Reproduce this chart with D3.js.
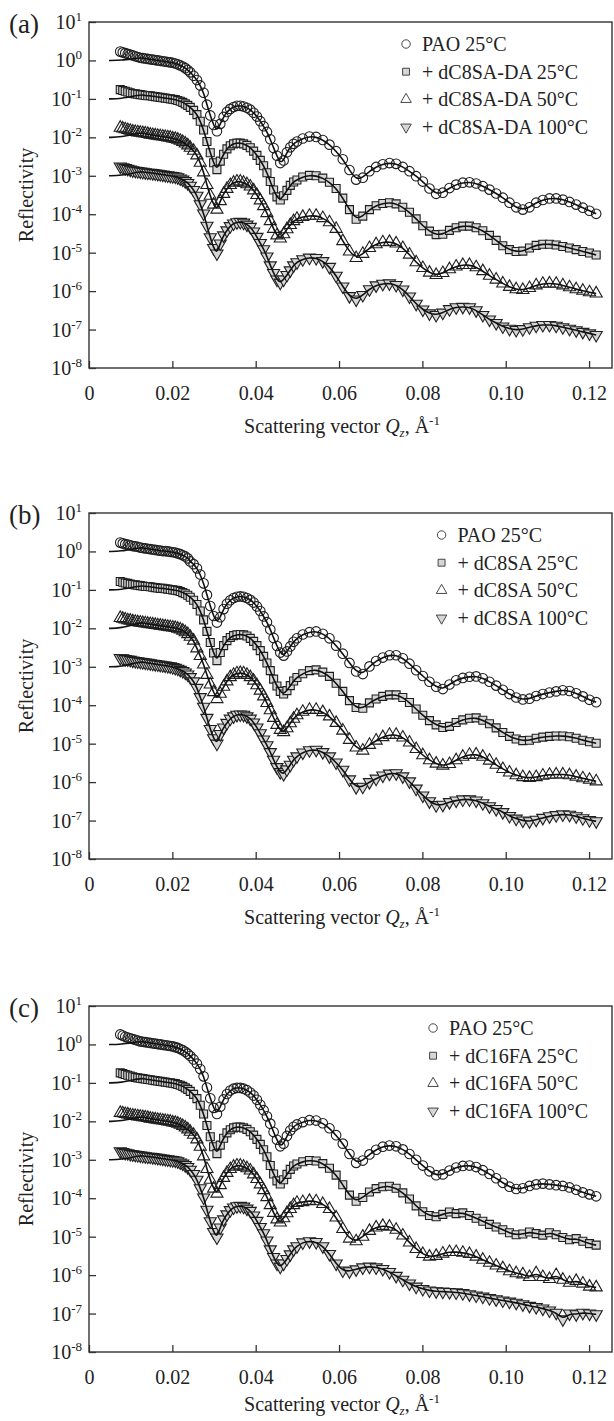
<!DOCTYPE html>
<html>
<head>
<meta charset="utf-8" />
<title>Neutron reflectivity</title>
<script src="https://d3js.org/d3.v7.min.js" charset="utf-8"></script>
<style>
  body { margin: 0; background: #fff; }
  text { font-family: "Liberation Serif", "Times New Roman", serif; fill: #222; }
</style>
</head>
<body>
<script>
// Q values (1/Å) shared by every measured curve
const qGrid = [
  0.0075,0.0081,0.0087,0.0093,0.0099,0.0105,0.0111,0.0117,0.0123,0.0129,0.0135,0.0141,0.0147,0.0153,
  0.0159,0.0165,0.0171,0.0177,0.0183,0.0189,0.0195,0.0201,0.0207,0.0213,0.0219,0.0225,0.0231,0.0237,
  0.0243,0.0251,0.0259,0.0267,0.0275,0.0283,0.0291,0.0299,0.0307,0.0315,0.0323,0.0331,0.0339,0.0347,
  0.0355,0.0363,0.0371,0.0379,0.0387,0.0395,0.0403,0.0411,0.0419,0.0427,0.0435,0.0443,0.0451,0.0459,
  0.0467,0.0475,0.0483,0.0491,0.0499,
  0.0513,0.0529,0.0545,0.0561,0.0577,0.0593,0.0609,0.0625,0.0641,0.0657,0.0673,0.0689,0.0705,0.0721,
  0.0737,0.0753,0.0769,0.0785,0.0801,0.0817,0.0833,0.0849,0.0865,0.0881,0.0897,0.0913,0.0929,0.0945,
  0.0961,0.0977,0.0993,0.1009,0.1025,0.1041,0.1057,0.1073,0.1089,0.1105,0.1121,0.1137,0.1153,0.1169,
  0.1185,0.1201,0.1217
];

// log10(reflectivity), curves already offset by decades as plotted
// panel (a)
const aPao = [0.23,0.21,0.19,0.17,0.15,0.13,0.11,0.09,0.07,0.06,0.05,0.04,0.03,0.02,0.01,0.00,-0.01,-0.02,-0.03,-0.04,-0.05,-0.06,-0.08,-0.10,-0.13,-0.16,-0.20,-0.25,
  -0.31,-0.40,-0.51,-0.65,-0.84,-1.15,-1.43,-1.68,-1.84,-1.65,-1.47,-1.34,-1.26,-1.21,-1.18,-1.18,-1.20,-1.23,-1.28,-1.36,-1.46,-1.58,-1.71,-1.86,-2.05,-2.28,-2.48,-2.67,-2.60,-2.39,-2.26,-2.17,-2.11,
  -2.03,-1.98,-1.99,-2.07,-2.19,-2.36,-2.57,-2.85,-3.10,-3.05,-2.88,-2.77,-2.70,-2.67,-2.69,-2.77,-2.88,-3.01,-3.15,-3.33,-3.47,-3.44,-3.32,-3.23,-3.18,-3.17,-3.20,-3.27,-3.36,-3.46,-3.57,-3.70,-3.82,-3.88,-3.82,-3.70,-3.63,-3.59,-3.59,-3.62,-3.68,-3.75,-3.83,-3.91,-3.99];
const aDa25 = [-0.76,-0.78,-0.80,-0.82,-0.84,-0.86,-0.87,-0.88,-0.89,-0.90,-0.91,-0.92,-0.92,-0.93,-0.94,-0.95,-0.96,-0.97,-0.98,-0.99,-1.00,-1.01,-1.02,-1.04,-1.06,-1.09,-1.13,-1.17,
  -1.22,-1.30,-1.41,-1.58,-1.81,-2.11,-2.40,-2.66,-2.84,-2.62,-2.44,-2.30,-2.22,-2.17,-2.15,-2.15,-2.17,-2.21,-2.27,-2.36,-2.47,-2.60,-2.74,-2.92,-3.15,-3.37,-3.55,-3.63,-3.52,-3.38,-3.25,-3.16,-3.11,
  -3.03,-2.99,-3.00,-3.06,-3.17,-3.33,-3.58,-3.88,-4.13,-4.05,-3.88,-3.78,-3.72,-3.70,-3.73,-3.82,-3.95,-4.12,-4.30,-4.44,-4.53,-4.52,-4.42,-4.35,-4.31,-4.31,-4.35,-4.43,-4.55,-4.68,-4.82,-4.92,-4.97,-4.96,-4.88,-4.81,-4.78,-4.78,-4.80,-4.84,-4.88,-4.92,-4.97,-5.01,-5.06];
const aDa50 = [-1.75,-1.77,-1.79,-1.81,-1.83,-1.85,-1.86,-1.87,-1.88,-1.89,-1.90,-1.91,-1.93,-1.94,-1.95,-1.96,-1.97,-1.98,-1.99,-2.00,-2.01,-2.03,-2.04,-2.06,-2.09,-2.12,-2.16,-2.21,
  -2.27,-2.35,-2.47,-2.66,-2.91,-3.24,-3.52,-3.75,-3.88,-3.66,-3.47,-3.34,-3.24,-3.18,-3.15,-3.15,-3.18,-3.22,-3.28,-3.38,-3.50,-3.64,-3.79,-3.97,-4.18,-4.38,-4.55,-4.63,-4.52,-4.39,-4.28,-4.18,-4.12,
  -4.07,-4.04,-4.04,-4.10,-4.21,-4.38,-4.70,-4.97,-5.14,-5.03,-4.88,-4.78,-4.73,-4.72,-4.76,-4.88,-5.05,-5.25,-5.40,-5.52,-5.58,-5.53,-5.43,-5.36,-5.32,-5.32,-5.38,-5.48,-5.60,-5.70,-5.80,-5.89,-5.95,-5.97,-5.92,-5.85,-5.81,-5.80,-5.81,-5.85,-5.90,-5.95,-5.99,-6.03,-6.06];
const aDa100 = [-2.76,-2.78,-2.80,-2.82,-2.84,-2.86,-2.87,-2.88,-2.89,-2.90,-2.91,-2.92,-2.92,-2.93,-2.94,-2.95,-2.96,-2.97,-2.98,-2.99,-3.00,-3.01,-3.02,-3.04,-3.07,-3.10,-3.14,-3.19,
  -3.26,-3.37,-3.52,-3.74,-3.98,-4.30,-4.60,-4.88,-5.02,-4.76,-4.55,-4.42,-4.31,-4.24,-4.21,-4.20,-4.22,-4.27,-4.33,-4.45,-4.59,-4.75,-4.91,-5.10,-5.33,-5.53,-5.70,-5.78,-5.70,-5.58,-5.46,-5.33,-5.25,
  -5.17,-5.13,-5.14,-5.22,-5.37,-5.60,-5.88,-6.13,-6.22,-6.10,-5.95,-5.85,-5.81,-5.80,-5.84,-5.96,-6.14,-6.33,-6.48,-6.58,-6.62,-6.56,-6.47,-6.42,-6.41,-6.42,-6.50,-6.62,-6.74,-6.83,-6.92,-6.98,-7.01,-6.99,-6.94,-6.90,-6.88,-6.88,-6.90,-6.94,-6.98,-7.02,-7.06,-7.10,-7.14];

// panel (b)
const bPao = [0.23,0.21,0.19,0.18,0.16,0.14,0.13,0.12,0.10,0.09,0.08,0.07,0.06,0.05,0.04,0.03,0.02,0.01,0.01,0.00,-0.01,-0.02,-0.03,-0.05,-0.07,-0.10,-0.13,-0.18,
  -0.26,-0.33,-0.44,-0.60,-0.83,-1.13,-1.42,-1.68,-1.85,-1.71,-1.50,-1.36,-1.27,-1.21,-1.18,-1.17,-1.18,-1.21,-1.26,-1.33,-1.43,-1.55,-1.69,-1.84,-2.03,-2.25,-2.46,-2.63,-2.71,-2.60,-2.47,-2.35,-2.26,
  -2.16,-2.10,-2.08,-2.14,-2.26,-2.45,-2.66,-2.90,-3.12,-3.19,-2.99,-2.85,-2.76,-2.70,-2.70,-2.78,-2.92,-3.09,-3.24,-3.39,-3.52,-3.58,-3.46,-3.35,-3.29,-3.26,-3.25,-3.30,-3.39,-3.49,-3.60,-3.71,-3.80,-3.85,-3.83,-3.76,-3.71,-3.67,-3.64,-3.61,-3.63,-3.69,-3.77,-3.86,-3.92];
const bSa25 = [-0.78,-0.80,-0.82,-0.83,-0.85,-0.86,-0.87,-0.88,-0.89,-0.90,-0.91,-0.91,-0.92,-0.93,-0.94,-0.95,-0.96,-0.96,-0.97,-0.98,-0.99,-1.00,-1.01,-1.02,-1.04,-1.07,-1.10,-1.14,
  -1.19,-1.27,-1.38,-1.55,-1.78,-2.08,-2.37,-2.64,-2.84,-2.63,-2.45,-2.32,-2.24,-2.19,-2.17,-2.16,-2.17,-2.20,-2.26,-2.34,-2.45,-2.58,-2.73,-2.90,-3.10,-3.32,-3.50,-3.64,-3.71,-3.62,-3.49,-3.37,-3.28,
  -3.18,-3.10,-3.08,-3.14,-3.25,-3.43,-3.64,-3.88,-4.06,-4.08,-3.94,-3.84,-3.77,-3.73,-3.73,-3.80,-3.93,-4.10,-4.26,-4.40,-4.51,-4.58,-4.55,-4.45,-4.38,-4.34,-4.33,-4.39,-4.48,-4.59,-4.71,-4.81,-4.88,-4.92,-4.91,-4.86,-4.83,-4.81,-4.80,-4.80,-4.82,-4.86,-4.91,-4.95,-4.99];
const bSa50 = [-1.73,-1.75,-1.77,-1.79,-1.80,-1.82,-1.83,-1.84,-1.85,-1.86,-1.87,-1.88,-1.89,-1.90,-1.91,-1.92,-1.93,-1.94,-1.95,-1.96,-1.97,-1.98,-1.99,-2.01,-2.03,-2.06,-2.10,-2.15,
  -2.22,-2.32,-2.52,-2.72,-2.94,-3.21,-3.46,-3.66,-3.84,-3.70,-3.52,-3.38,-3.27,-3.21,-3.17,-3.16,-3.17,-3.21,-3.27,-3.36,-3.48,-3.62,-3.77,-3.94,-4.13,-4.33,-4.51,-4.64,-4.70,-4.60,-4.47,-4.35,-4.26,
  -4.17,-4.12,-4.12,-4.18,-4.29,-4.46,-4.66,-4.90,-5.10,-5.18,-5.03,-4.92,-4.83,-4.77,-4.77,-4.84,-4.97,-5.14,-5.30,-5.43,-5.52,-5.57,-5.53,-5.43,-5.34,-5.29,-5.28,-5.34,-5.44,-5.55,-5.66,-5.75,-5.82,-5.87,-5.89,-5.87,-5.83,-5.81,-5.80,-5.80,-5.82,-5.86,-5.90,-5.94,-5.98];
const bSa100 = [-2.77,-2.78,-2.80,-2.81,-2.82,-2.84,-2.85,-2.86,-2.87,-2.88,-2.89,-2.90,-2.91,-2.92,-2.93,-2.94,-2.95,-2.96,-2.97,-2.98,-2.99,-3.01,-3.03,-3.05,-3.08,-3.11,-3.15,-3.20,
  -3.27,-3.38,-3.55,-3.79,-4.04,-4.33,-4.62,-4.86,-5.00,-4.75,-4.58,-4.46,-4.35,-4.29,-4.25,-4.24,-4.25,-4.29,-4.35,-4.45,-4.58,-4.73,-4.89,-5.04,-5.22,-5.42,-5.61,-5.74,-5.79,-5.67,-5.55,-5.42,-5.33,
  -5.23,-5.17,-5.16,-5.22,-5.33,-5.49,-5.68,-5.93,-6.13,-6.12,-6.00,-5.91,-5.83,-5.78,-5.77,-5.85,-5.98,-6.17,-6.35,-6.50,-6.60,-6.59,-6.52,-6.48,-6.45,-6.45,-6.48,-6.55,-6.63,-6.70,-6.78,-6.88,-6.95,-7.00,-7.02,-6.98,-6.93,-6.89,-6.86,-6.84,-6.85,-6.89,-6.94,-6.99,-7.02];

// panel (c)
const cPao = [0.26,0.23,0.20,0.18,0.16,0.14,0.12,0.10,0.08,0.07,0.06,0.05,0.04,0.03,0.02,0.01,0.00,-0.01,-0.02,-0.03,-0.04,-0.05,-0.07,-0.09,-0.12,-0.15,-0.19,-0.24,
  -0.30,-0.39,-0.50,-0.64,-0.83,-1.12,-1.40,-1.65,-1.81,-1.62,-1.43,-1.29,-1.20,-1.15,-1.13,-1.13,-1.15,-1.19,-1.25,-1.33,-1.44,-1.57,-1.71,-1.87,-2.06,-2.28,-2.48,-2.65,-2.58,-2.38,-2.24,-2.14,-2.08,
  -2.02,-1.97,-1.98,-2.05,-2.18,-2.36,-2.58,-2.85,-3.08,-3.02,-2.86,-2.74,-2.66,-2.63,-2.65,-2.73,-2.85,-3.00,-3.15,-3.30,-3.40,-3.38,-3.28,-3.20,-3.16,-3.15,-3.19,-3.27,-3.37,-3.48,-3.60,-3.70,-3.76,-3.74,-3.68,-3.64,-3.62,-3.64,-3.66,-3.68,-3.72,-3.78,-3.85,-3.90,-3.95];
const cFa25 = [-0.74,-0.76,-0.78,-0.80,-0.82,-0.84,-0.86,-0.87,-0.88,-0.89,-0.90,-0.91,-0.92,-0.93,-0.94,-0.95,-0.96,-0.97,-0.98,-0.99,-1.00,-1.01,-1.02,-1.04,-1.06,-1.09,-1.13,-1.17,
  -1.22,-1.30,-1.41,-1.58,-1.81,-2.11,-2.40,-2.66,-2.84,-2.62,-2.44,-2.30,-2.22,-2.17,-2.15,-2.15,-2.17,-2.21,-2.27,-2.36,-2.47,-2.60,-2.74,-2.92,-3.15,-3.37,-3.55,-3.63,-3.52,-3.38,-3.25,-3.16,-3.11,
  -3.05,-3.02,-3.03,-3.10,-3.22,-3.40,-3.65,-3.92,-4.08,-3.98,-3.84,-3.75,-3.70,-3.69,-3.74,-3.86,-4.02,-4.20,-4.35,-4.45,-4.48,-4.42,-4.36,-4.40,-4.38,-4.45,-4.52,-4.60,-4.68,-4.75,-4.82,-4.90,-4.95,-4.93,-4.88,-4.92,-4.96,-4.90,-4.95,-5.02,-5.08,-5.05,-5.12,-5.18,-5.22];
const cFa50 = [-1.78,-1.79,-1.81,-1.82,-1.84,-1.85,-1.86,-1.87,-1.88,-1.89,-1.90,-1.91,-1.93,-1.94,-1.95,-1.96,-1.97,-1.98,-1.99,-2.00,-2.01,-2.03,-2.04,-2.06,-2.09,-2.12,-2.16,-2.21,
  -2.27,-2.35,-2.47,-2.66,-2.91,-3.24,-3.52,-3.75,-3.88,-3.66,-3.47,-3.34,-3.24,-3.18,-3.15,-3.15,-3.18,-3.22,-3.28,-3.38,-3.50,-3.64,-3.79,-3.97,-4.18,-4.38,-4.55,-4.63,-4.52,-4.39,-4.28,-4.18,-4.12,
  -4.10,-4.07,-4.08,-4.15,-4.28,-4.50,-4.80,-5.05,-5.12,-5.00,-4.85,-4.76,-4.72,-4.74,-4.82,-4.97,-5.15,-5.32,-5.45,-5.52,-5.50,-5.44,-5.40,-5.40,-5.42,-5.45,-5.52,-5.60,-5.68,-5.75,-5.82,-5.90,-5.95,-5.98,-6.05,-5.95,-6.05,-6.10,-6.00,-6.12,-6.20,-6.15,-6.22,-6.30,-6.32];
const cFa100 = [-2.78,-2.80,-2.82,-2.83,-2.85,-2.86,-2.87,-2.88,-2.89,-2.90,-2.91,-2.92,-2.92,-2.93,-2.94,-2.95,-2.96,-2.97,-2.98,-2.99,-3.00,-3.01,-3.02,-3.04,-3.07,-3.10,-3.14,-3.19,
  -3.26,-3.37,-3.52,-3.74,-3.98,-4.30,-4.60,-4.88,-5.02,-4.76,-4.55,-4.42,-4.31,-4.24,-4.21,-4.20,-4.22,-4.27,-4.33,-4.45,-4.59,-4.75,-4.91,-5.10,-5.33,-5.53,-5.70,-5.78,-5.70,-5.58,-5.46,-5.33,-5.25,
  -5.15,-5.12,-5.14,-5.25,-5.45,-5.70,-5.88,-5.90,-5.85,-5.80,-5.78,-5.80,-5.84,-5.92,-6.02,-6.12,-6.22,-6.30,-6.36,-6.40,-6.42,-6.43,-6.44,-6.45,-6.47,-6.50,-6.53,-6.56,-6.60,-6.63,-6.66,-6.69,-6.72,-6.76,-6.80,-6.83,-6.87,-6.92,-6.98,-7.15,-7.00,-7.02,-6.98,-7.00,-7.02];

// model fits start at low Q on the nominal level of each curve
const fitStartQ = 0.0048;
const fitLevels = [0, -1, -2, -3];

const panelLabels = ["(a)", "(b)", "(c)"];
const legendNames = [
  ["PAO 25°C", "+ dC8SA-DA 25°C", "+ dC8SA-DA 50°C", "+ dC8SA-DA 100°C"],
  ["PAO 25°C", "+ dC8SA 25°C", "+ dC8SA 50°C", "+ dC8SA 100°C"],
  ["PAO 25°C", "+ dC16FA 25°C", "+ dC16FA 50°C", "+ dC16FA 100°C"]
];
const panelSeries = [
  [aPao, aDa25, aDa50, aDa100],
  [bPao, bSa25, bSa50, bSa100],
  [cPao, cFa25, cFa50, cFa100]
];
const xTicks = [0, 0.02, 0.04, 0.06, 0.08, 0.10, 0.12];
const xTickLabels = ["0", "0.02", "0.04", "0.06", "0.08", "0.10", "0.12"];
const yExponents = [1, 0, -1, -2, -3, -4, -5, -6, -7, -8];

// layout
const width = 614, height = 1421;
const plotLeft = 89, plotRight = 612, plotH = 346;
const panelTop = [22, 513, 1006];

const markers = [
  { type: d3.symbolCircle, size: 72, fill: "none", rot: 0 },
  { type: d3.symbolSquare, size: 64, fill: "#d6d6d6", rot: 0 },
  { type: d3.symbolTriangle, size: 64, fill: "none", rot: 0 },
  { type: d3.symbolTriangle, size: 64, fill: "#d6d6d6", rot: 180 }
];

const svg = d3.select("body").append("svg")
  .attr("width", width)
  .attr("height", height)
  .attr("viewBox", [0, 0, width, height]);

const x = d3.scaleLinear().domain([0, 0.1255]).range([plotLeft, plotRight]);

panelSeries.forEach((series, p) => {
  const top = panelTop[p], bottom = top + plotH;
  const y = d3.scaleLog().domain([1e-8, 10]).range([bottom, top]);
  const g = svg.append("g");

  // markers
  series.forEach((vals, k) => {
    if (vals.length !== qGrid.length) console.warn("length", p, k, vals.length);
    const pts = qGrid.map((q, j) => [q, vals[j]]).filter(d => d[1] !== undefined);
    const m = markers[k];
    g.append("g").selectAll("path")
      .data(pts)
      .join("path")
      .attr("d", d3.symbol(m.type, m.size))
      .attr("transform", d => `translate(${x(d[0])},${y(Math.pow(10, d[1]))}) rotate(${m.rot})`)
      .attr("fill", m.fill)
      .attr("stroke", "#1e1e1e")
      .attr("stroke-width", 1.1);
  });

  // fitted curves on top of the points
  const line = d3.line()
    .x(d => x(d[0]))
    .y(d => y(Math.pow(10, d[1])))
    .curve(d3.curveBasis);
  series.forEach((vals, k) => {
    const pts = qGrid.map((q, j) => [q, vals[j]]).filter(d => d[1] !== undefined);
    const fit = [[fitStartQ, fitLevels[k]], [qGrid[0], fitLevels[k]]].concat(pts.slice(8));
    g.append("path")
      .attr("d", line(fit))
      .attr("fill", "none")
      .attr("stroke", "#111")
      .attr("stroke-width", 1.6);
  });

  // frame
  g.append("rect")
    .attr("x", plotLeft).attr("y", top)
    .attr("width", plotRight - plotLeft).attr("height", plotH)
    .attr("fill", "none").attr("stroke", "#333").attr("stroke-width", 1.4);

  // x axis ticks (inside) and labels
  const xa = g.append("g")
    .attr("transform", `translate(0,${bottom})`)
    .call(d3.axisBottom(x).tickValues(xTicks).tickSize(-7).tickPadding(18)
      .tickFormat((d, i) => xTickLabels[i]));
  xa.select(".domain").remove();
  xa.selectAll("line").attr("stroke", "#333").attr("stroke-width", 1.3);
  xa.selectAll("text")
    .attr("font-family", "Liberation Serif, serif")
    .attr("font-size", 20)
    .attr("fill", "#222");

  // y axis ticks (inside)
  const ya = g.append("g")
    .attr("transform", `translate(${plotLeft},0)`)
    .call(d3.axisLeft(y).tickValues(yExponents.map(e => Math.pow(10, e))).tickSize(-7).tickFormat(""));
  ya.select(".domain").remove();
  ya.selectAll("line").attr("stroke", "#333").attr("stroke-width", 1.3);

  // y tick labels 10^n
  yExponents.forEach(e => {
    const t = g.append("text")
      .attr("x", 82)
      .attr("y", y(Math.pow(10, e)) + 7)
      .attr("text-anchor", "end")
      .attr("font-size", 20);
    t.append("tspan").text("10");
    t.append("tspan").attr("font-size", 13).attr("dy", -8).text(String(e));
  });

  // axis titles
  g.append("text")
    .attr("transform", `translate(33,${(top + bottom) / 2}) rotate(-90)`)
    .attr("text-anchor", "middle")
    .attr("font-size", 20)
    .text("Reflectivity");

  const xt = g.append("text")
    .attr("x", 342)
    .attr("y", Math.min(bottom + 65, height - 10))
    .attr("text-anchor", "middle")
    .attr("font-size", 20);
  xt.append("tspan").text("Scattering vector ");
  xt.append("tspan").attr("font-style", "italic").text("Q");
  xt.append("tspan").attr("font-style", "italic").attr("font-size", 13).attr("dy", 4).text("z");
  xt.append("tspan").attr("dy", -4).text(", Å");
  xt.append("tspan").attr("font-size", 13).attr("dy", -8).text("-1");

  // panel label
  g.append("text")
    .attr("x", 9)
    .attr("y", top + 11)
    .attr("font-size", 27)
    .text(panelLabels[p]);

  // legend, right aligned block
  const lg = g.append("g");
  const texts = legendNames[p].map((name, r) =>
    lg.append("text")
      .attr("y", top + 29 + r * 27.7)
      .attr("font-size", 20)
      .text(name));
  const maxW = d3.max(texts, t => t.node().getComputedTextLength());
  const tx = 588 - maxW;
  texts.forEach((t, r) => {
    t.attr("x", tx);
    const m = markers[r];
    lg.append("path")
      .attr("d", d3.symbol(m.type, m.size - 16))
      .attr("transform", `translate(${tx - 16},${top + 22 + r * 27.7}) rotate(${m.rot})`)
      .attr("fill", m.fill === "none" ? "#fff" : m.fill)
      .attr("stroke", "#333")
      .attr("stroke-width", 0.9);
  });
});
</script>
</body>
</html>
